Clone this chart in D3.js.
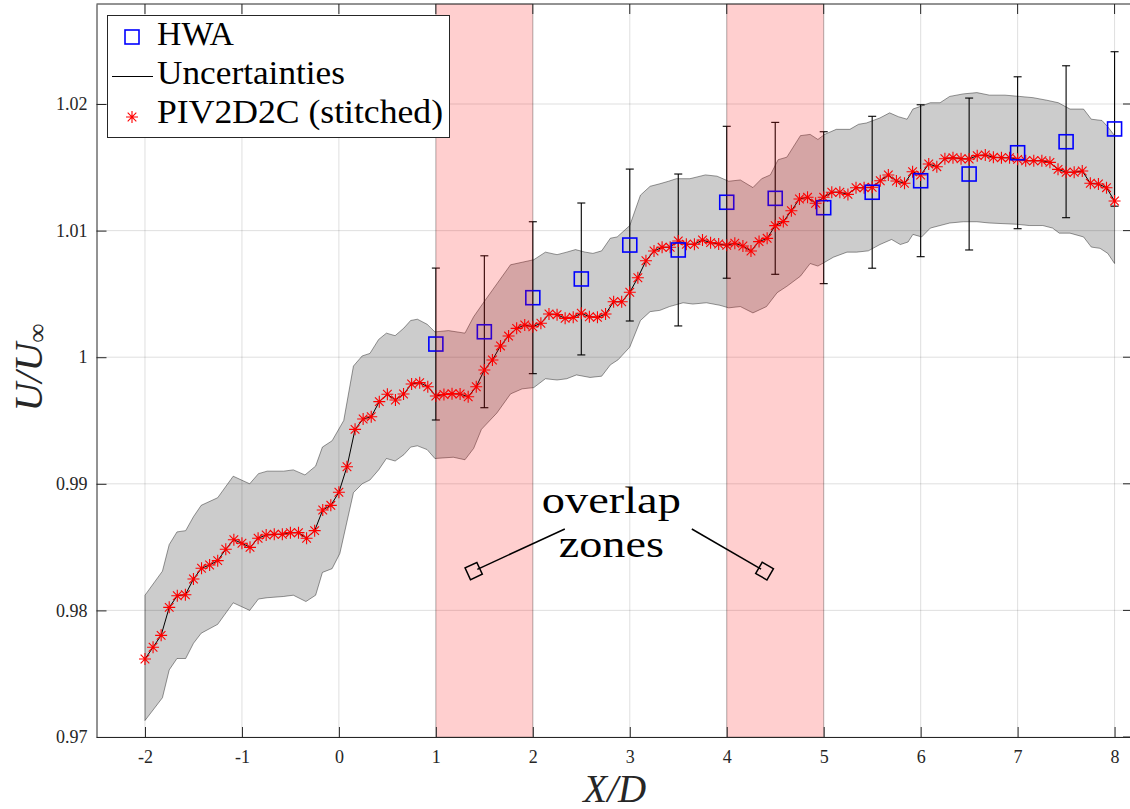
<!DOCTYPE html>
<html>
<head>
<meta charset="utf-8">
<script src="https://cdn.jsdelivr.net/npm/d3@7"></script>
<style>
body { margin: 0; background: #fff; }
svg { display: block; font-family: "Liberation Serif", "Times New Roman", serif; }
</style>
</head>
<body>
<svg width="1130" height="809"></svg>
<script>
// ---- data ----
var xTicks = [-2, -1, 0, 1, 2, 3, 4, 5, 6, 7, 8];
var xTickLabels = ["-2", "-1", "0", "1", "2", "3", "4", "5", "6", "7", "8"];
var yTicks = [0.97, 0.98, 0.99, 1.00, 1.01, 1.02];
var yTickLabels = ["0.97", "0.98", "0.99", "1", "1.01", "1.02"];

// PIV2D2C (stitched): one sample every 1/12 D from X/D = -2
var pivStart = -2;
var pivStep = 1 / 12;
var pivU = [
	0.97616, 0.97709, 0.97803, 0.98024, 0.98116, 0.98124, 0.98248, 0.98333, 0.98359, 0.98393, 0.98483, 0.98558,
	0.98530, 0.98498, 0.98570, 0.98596, 0.98601, 0.98601, 0.98614, 0.98614, 0.98570, 0.98630, 0.98793, 0.98830,
	0.98933, 0.99135, 0.99430, 0.99512, 0.99530, 0.99649, 0.99707, 0.99662, 0.99709, 0.99788, 0.99799, 0.99767,
	0.99694, 0.99705, 0.99712, 0.99709, 0.99688, 0.99767, 0.99899, 0.99978, 1.00089, 1.00167, 1.00228, 1.00254,
	1.00241, 1.00268, 1.00341, 1.00336, 1.00307, 1.00315, 1.00347, 1.00320, 1.00315, 1.00341, 1.00438, 1.00438,
	1.00513, 1.00628, 1.00762, 1.00839, 1.00868, 1.00868, 1.00918, 1.00892, 1.00892, 1.00926, 1.00905, 1.00894,
	1.00884, 1.00900, 1.00878, 1.00839, 1.00913, 1.00939, 1.01039, 1.01071, 1.01157, 1.01250, 1.01263, 1.01216,
	1.01263, 1.01303, 1.01303, 1.01286, 1.01339, 1.01339, 1.01342, 1.01394, 1.01439, 1.01392, 1.01374, 1.01465,
	1.01439, 1.01526, 1.01505, 1.01568, 1.01576, 1.01568, 1.01566, 1.01592, 1.01597, 1.01579, 1.01576, 1.01576,
	1.01563, 1.01552, 1.01552, 1.01552, 1.01539, 1.01484, 1.01461, 1.01461, 1.01471, 1.01374, 1.01368, 1.01339,
	1.01234
];

// uncertainty band, upper and lower edges
var bandUpperX = [-2.00, -1.82, -1.75, -1.67, -1.58, -1.50, -1.42, -1.25, -1.09, -0.92, -0.83, -0.74, -0.57, -0.47,
	-0.35, -0.24, -0.17, -0.07, 0.05, 0.15, 0.24, 0.32, 0.41, 0.49, 0.58, 0.67, 0.74, 0.81, 0.91, 0.99, 1.13, 1.30,
	1.39, 1.49, 1.63, 1.77, 1.89, 2.01, 2.13, 2.25, 2.35, 2.44, 2.54, 2.62, 2.71, 2.80, 2.87, 3.00, 3.11, 3.21, 3.31,
	3.40, 3.48, 3.62, 3.78, 3.90, 4.02, 4.14, 4.27, 4.36, 4.45, 4.53, 4.62, 4.76, 4.86, 4.94, 5.01, 5.13, 5.27, 5.36,
	5.44, 5.58, 5.68, 5.77, 5.86, 5.92, 6.10, 6.20, 6.30, 6.44, 6.58, 6.71, 6.87, 7.02, 7.16, 7.30, 7.42, 7.54, 7.68,
	7.76, 7.87, 7.93, 8.00];
var bandUpper = [0.9812, 0.9831, 0.9852, 0.9862, 0.9863, 0.9874, 0.9883, 0.9889, 0.9906, 0.9900, 0.9908, 0.9910,
	0.9910, 0.9911, 0.9907, 0.9914, 0.9929, 0.9934, 0.9950, 0.9993, 1.0001, 1.0003, 1.0014, 1.0019, 1.0017, 1.0023,
	1.0029, 1.0030, 1.0026, 1.0020, 1.0021, 1.0019, 1.0032, 1.0043, 1.0058, 1.0073, 1.0075, 1.0077, 1.0083, 1.0081,
	1.0083, 1.0085, 1.0083, 1.0082, 1.0084, 1.0094, 1.0095, 1.0104, 1.0128, 1.0135, 1.0137, 1.0139, 1.0141, 1.0141,
	1.0144, 1.0143, 1.0139, 1.0140, 1.0134, 1.0141, 1.0144, 1.0156, 1.0158, 1.0175, 1.0176, 1.0172, 1.0176, 1.0180,
	1.0180, 1.0184, 1.0185, 1.0189, 1.0193, 1.0190, 1.0188, 1.0196, 1.0201, 1.0201, 1.0206, 1.0208, 1.0209, 1.0207,
	1.0207, 1.0206, 1.0205, 1.0203, 1.0201, 1.0196, 1.0196, 1.0188, 1.0187, 1.0182, 1.0175];
var bandLowerX = [-2.00, -1.82, -1.75, -1.67, -1.58, -1.50, -1.42, -1.25, -1.09, -0.92, -0.83, -0.74, -0.57, -0.47,
	-0.34, -0.24, -0.17, -0.07, 0.01, 0.15, 0.24, 0.32, 0.41, 0.49, 0.58, 0.67, 0.74, 0.81, 0.91, 0.99, 1.18, 1.30,
	1.39, 1.47, 1.63, 1.77, 1.89, 2.01, 2.13, 2.25, 2.35, 2.45, 2.59, 2.71, 2.80, 2.88, 3.00, 3.11, 3.21, 3.31, 3.41,
	3.55, 3.65, 3.79, 3.93, 4.02, 4.14, 4.27, 4.41, 4.52, 4.62, 4.76, 4.86, 4.94, 5.01, 5.10, 5.24, 5.34, 5.46, 5.58,
	5.70, 5.79, 5.87, 5.92, 6.01, 6.10, 6.20, 6.30, 6.44, 6.58, 6.71, 6.99, 7.12, 7.26, 7.36, 7.43, 7.54, 7.68, 7.76,
	7.85, 7.93, 8.00];
var bandLower = [0.9713, 0.9731, 0.9753, 0.9762, 0.9762, 0.9774, 0.9782, 0.9789, 0.9806, 0.9800, 0.9809, 0.9810,
	0.9811, 0.9812, 0.9807, 0.9812, 0.9830, 0.9833, 0.9845, 0.9893, 0.9900, 0.9903, 0.9911, 0.9920, 0.9918, 0.9923,
	0.9929, 0.9930, 0.9927, 0.9920, 0.9921, 0.9919, 0.9928, 0.9943, 0.9956, 0.9971, 0.9975, 0.9976, 0.9983, 0.9982,
	0.9983, 0.9986, 0.9984, 0.9985, 0.9994, 0.9998, 1.0008, 1.0029, 1.0036, 1.0037, 1.0040, 1.0043, 1.0042, 1.0043,
	1.0041, 1.0039, 1.0040, 1.0035, 1.0040, 1.0051, 1.0056, 1.0064, 1.0074, 1.0072, 1.0075, 1.0079, 1.0083, 1.0083,
	1.0084, 1.0089, 1.0093, 1.0089, 1.0091, 1.0097, 1.0095, 1.0102, 1.0104, 1.0106, 1.0107, 1.0107, 1.0106, 1.0105,
	1.0104, 1.0104, 1.0102, 1.0098, 1.0098, 1.0095, 1.0087, 1.0086, 1.0082, 1.0074];

// HWA points with their error bars
var hwaX = [1, 1.5, 2, 2.5, 3, 3.5, 4, 4.5, 5, 5.5, 6, 6.5, 7, 7.5, 8];
var hwaU = [1.00104, 1.00201, 1.00470, 1.00618, 1.00886, 1.00847, 1.01224, 1.01255, 1.01181, 1.01303, 1.01394,
	1.01447, 1.01615, 1.01702, 1.01803];
var hwaErr = [0.0060, 0.0060, 0.0060, 0.0060, 0.0060, 0.0060, 0.0060, 0.0060, 0.0060, 0.0060, 0.0060, 0.0060,
	0.0060, 0.0060, 0.0061];

// overlap zones
var zoneStart = [1, 4];
var zoneEnd = [2, 5];

// annotation
var annoLines = ["overlap", "zones"];
var annoTextX = 2.81;
var annoTextY = [0.98769, 0.98422];
var arrowFromX = [2.33, 3.64];
var arrowFromY = [0.98643, 0.98643];
var arrowToX = [1.39, 4.39];
var arrowToY = [0.98311, 0.98311];

var legendLabels = ["HWA", "Uncertainties", "PIV2D2C (stitched)"];

// ---- chart ----
var svg = d3.select("svg");
var axisColor = "#262626";

var x = d3.scaleLinear().domain([-2.5, 8.19]).range([96.5, 1133]);
var y = d3.scaleLinear().domain([0.97, 1.0279]).range([737, 4]);

// note: "top" is taken by window.top, so use other names
var plotL = x.range()[0], plotR = x.range()[1],
	plotB = y.range()[0], plotT = y.range()[1];

// grid
var grid = svg.append("g")
	.attr("stroke", axisColor)
	.attr("stroke-opacity", 0.15)
	.attr("stroke-width", 1);

grid.selectAll("line.gx")
	.data(xTicks)
	.enter().append("line")
	.attr("class", "gx")
	.attr("x1", function(d){ return x(d); })
	.attr("x2", function(d){ return x(d); })
	.attr("y1", plotT)
	.attr("y2", plotB);

grid.selectAll("line.gy")
	.data(yTicks)
	.enter().append("line")
	.attr("class", "gy")
	.attr("x1", plotL)
	.attr("x2", plotR)
	.attr("y1", function(d){ return y(d); })
	.attr("y2", function(d){ return y(d); });

// uncertainty band
var bandPts = [];
for(var i=0; i<bandUpperX.length; i++){
	bandPts.push([x(bandUpperX[i]), y(bandUpper[i])]);
}
for(var j=bandLowerX.length-1; j>=0; j--){
	bandPts.push([x(bandLowerX[j]), y(bandLower[j])]);
}

svg.append("path")
	.attr("d", d3.line()(bandPts) + "Z")
	.style("fill", "#000")
	.style("fill-opacity", 0.2)
	.style("stroke", "#000")
	.style("stroke-opacity", 0.4)
	.style("stroke-width", 1);

// error bars
var bars = svg.append("g")
	.attr("stroke", "#000")
	.attr("stroke-width", 1.1);

hwaX.forEach(function(d, k){
	var cx = x(d),
		y0 = y(hwaU[k] - hwaErr[k]),
		y1 = y(hwaU[k] + hwaErr[k]);
	bars.append("line").attr("x1", cx).attr("x2", cx).attr("y1", y0).attr("y2", y1);
	bars.append("line").attr("x1", cx - 4).attr("x2", cx + 4).attr("y1", y0).attr("y2", y0);
	bars.append("line").attr("x1", cx - 4).attr("x2", cx + 4).attr("y1", y1).attr("y2", y1);
});

// PIV line + asterisks
var pivData = pivU.map(function(v, k){ return {x: pivStart + k * pivStep, u: v}; });

svg.append("path")
	.datum(pivData)
	.attr("d", d3.line()
		.x(function(d){ return x(d.x); })
		.y(function(d){ return y(d.u); }))
	.style("fill", "none")
	.style("stroke", "#000")
	.style("stroke-width", 1);

function asterisk(r){
	var q = r * 0.72;
	return "M0," + (-r) + "V" + r + "M" + (-r) + ",0H" + r +
		"M" + (-q) + "," + (-q) + "L" + q + "," + q + "M" + (-q) + "," + q + "L" + q + "," + (-q);
}

svg.append("g")
	.selectAll("path")
	.data(pivData)
	.enter().append("path")
	.attr("transform", function(d){ return "translate(" + x(d.x) + "," + y(d.u) + ")"; })
	.attr("d", asterisk(6))
	.style("fill", "none")
	.style("stroke", "#ff0000")
	.style("stroke-width", 1.1);

// HWA squares
svg.append("g")
	.selectAll("rect")
	.data(hwaX)
	.enter().append("rect")
	.attr("x", function(d){ return x(d) - 7; })
	.attr("y", function(d, k){ return y(hwaU[k]) - 7; })
	.attr("width", 14)
	.attr("height", 14)
	.style("fill", "none")
	.style("stroke", "#0000ff")
	.style("stroke-width", 1.6);

// overlap zones on top
svg.append("g")
	.selectAll("rect")
	.data(zoneStart)
	.enter().append("rect")
	.attr("x", function(d){ return x(d); })
	.attr("y", plotT)
	.attr("width", function(d, k){ return x(zoneEnd[k]) - x(d); })
	.attr("height", plotB - plotT)
	.style("fill", "#ff0000")
	.style("fill-opacity", 0.19)
	.style("stroke", "#000")
	.style("stroke-opacity", 0.2)
	.style("stroke-width", 1);

// axes
var xAxis = svg.append("g")
	.attr("transform", "translate(0," + plotB + ")")
	.call(d3.axisBottom(x)
		.tickValues(xTicks)
		.tickSizeInner(-10)
		.tickSizeOuter(0)
		.tickPadding(13)
		.tickFormat(function(d, k){ return xTickLabels[k]; }));

var yAxis = svg.append("g")
	.attr("transform", "translate(" + plotL + ",0)")
	.call(d3.axisLeft(y)
		.tickValues(yTicks)
		.tickSizeInner(-10)
		.tickSizeOuter(0)
		.tickPadding(9)
		.tickFormat(function(d, k){ return yTickLabels[k]; }));

[xAxis, yAxis].forEach(function(a){
	a.selectAll("path, line").attr("stroke", axisColor);
	a.selectAll("text")
		.attr("fill", axisColor)
		.style("font-family", "'Liberation Serif', serif")
		.style("font-size", "18px");
});

// top and right sides of the box
var box = svg.append("g").attr("stroke", axisColor).attr("stroke-width", 1);
box.append("line").attr("x1", plotL).attr("x2", plotR).attr("y1", plotT).attr("y2", plotT);
box.append("line").attr("x1", plotR).attr("x2", plotR).attr("y1", plotT).attr("y2", plotB);
box.selectAll("line.tt")
	.data(xTicks)
	.enter().append("line")
	.attr("class", "tt")
	.attr("x1", function(d){ return x(d); })
	.attr("x2", function(d){ return x(d); })
	.attr("y1", plotT)
	.attr("y2", plotT + 10);
box.selectAll("line.rt")
	.data(yTicks)
	.enter().append("line")
	.attr("class", "rt")
	.attr("x1", plotR)
	.attr("x2", plotR - 10)
	.attr("y1", function(d){ return y(d); })
	.attr("y2", function(d){ return y(d); });

// axis labels
svg.append("text")
	.attr("x", (plotL + plotR) / 2)
	.attr("y", 802)
	.attr("text-anchor", "middle")
	.style("font-style", "italic")
	.style("font-size", "39px")
	.attr("fill", axisColor)
	.text("X/D");

var yl = svg.append("text")
	.attr("transform", "translate(42," + ((plotT + plotB) / 2 - 3) + ") rotate(-90)")
	.attr("text-anchor", "middle")
	.style("font-style", "italic")
	.style("font-size", "40px")
	.attr("fill", axisColor);
yl.append("tspan").text("U/U");
yl.append("tspan").attr("dy", 4).style("font-size", "27px").style("font-style", "normal").text("\u221e");

// annotation
var anno = svg.append("g");
anno.selectAll("text")
	.data(annoLines)
	.enter().append("text")
	.attr("x", x(annoTextX))
	.attr("y", function(d, k){ return y(annoTextY[k]); })
	.attr("text-anchor", "middle")
	.attr("textLength", function(d, k){ return k == 0 ? 139 : 105; })
	.attr("lengthAdjust", "spacingAndGlyphs")
	.style("font-size", "38px")
	.text(function(d){ return d; });

arrowFromX.forEach(function(d, k){
	var x0 = x(d), y0 = y(arrowFromY[k]),
		x1 = x(arrowToX[k]), y1 = y(arrowToY[k]);
	var ang = Math.atan2(y1 - y0, x1 - x0);
	var len = Math.hypot(x1 - x0, y1 - y0);
	anno.append("line")
		.attr("x1", x0).attr("y1", y0)
		.attr("x2", x0 + (len - 4) * Math.cos(ang))
		.attr("y2", y0 + (len - 4) * Math.sin(ang))
		.attr("stroke", "#000")
		.attr("stroke-width", 1.5);
	anno.append("rect")
		.attr("transform", "translate(" + x1 + "," + y1 + ") rotate(" + (ang * 180 / Math.PI) + ")")
		.attr("x", -6.5).attr("y", -6.5)
		.attr("width", 13).attr("height", 13)
		.style("fill", "none")
		.style("stroke", "#000")
		.style("stroke-width", 1.5);
});

// legend
var lg = svg.append("g");
lg.append("rect")
	.attr("x", 107.5).attr("y", 15.5)
	.attr("width", 342).attr("height", 122)
	.style("fill", "#fff")
	.style("stroke", axisColor)
	.style("stroke-width", 1);

lg.append("rect")
	.attr("x", 125).attr("y", 30)
	.attr("width", 14).attr("height", 14)
	.style("fill", "none")
	.style("stroke", "#0000ff")
	.style("stroke-width", 1.6);

lg.append("line")
	.attr("x1", 112).attr("x2", 153)
	.attr("y1", 76.5).attr("y2", 76.5)
	.attr("stroke", "#000").attr("stroke-width", 1);

lg.append("path")
	.attr("transform", "translate(132,117)")
	.attr("d", asterisk(6))
	.style("fill", "none")
	.style("stroke", "#ff0000")
	.style("stroke-width", 1.1);

var legendBase = [45, 83.5, 122.7];
var legendLen = [77, 188, 286];
lg.selectAll("text")
	.data(legendLabels)
	.enter().append("text")
	.attr("x", 157)
	.attr("y", function(d, k){ return legendBase[k]; })
	.attr("textLength", function(d, k){ return legendLen[k]; })
	.attr("lengthAdjust", "spacingAndGlyphs")
	.style("font-size", "33px")
	.text(function(d){ return d; });
</script>
</body>
</html>
